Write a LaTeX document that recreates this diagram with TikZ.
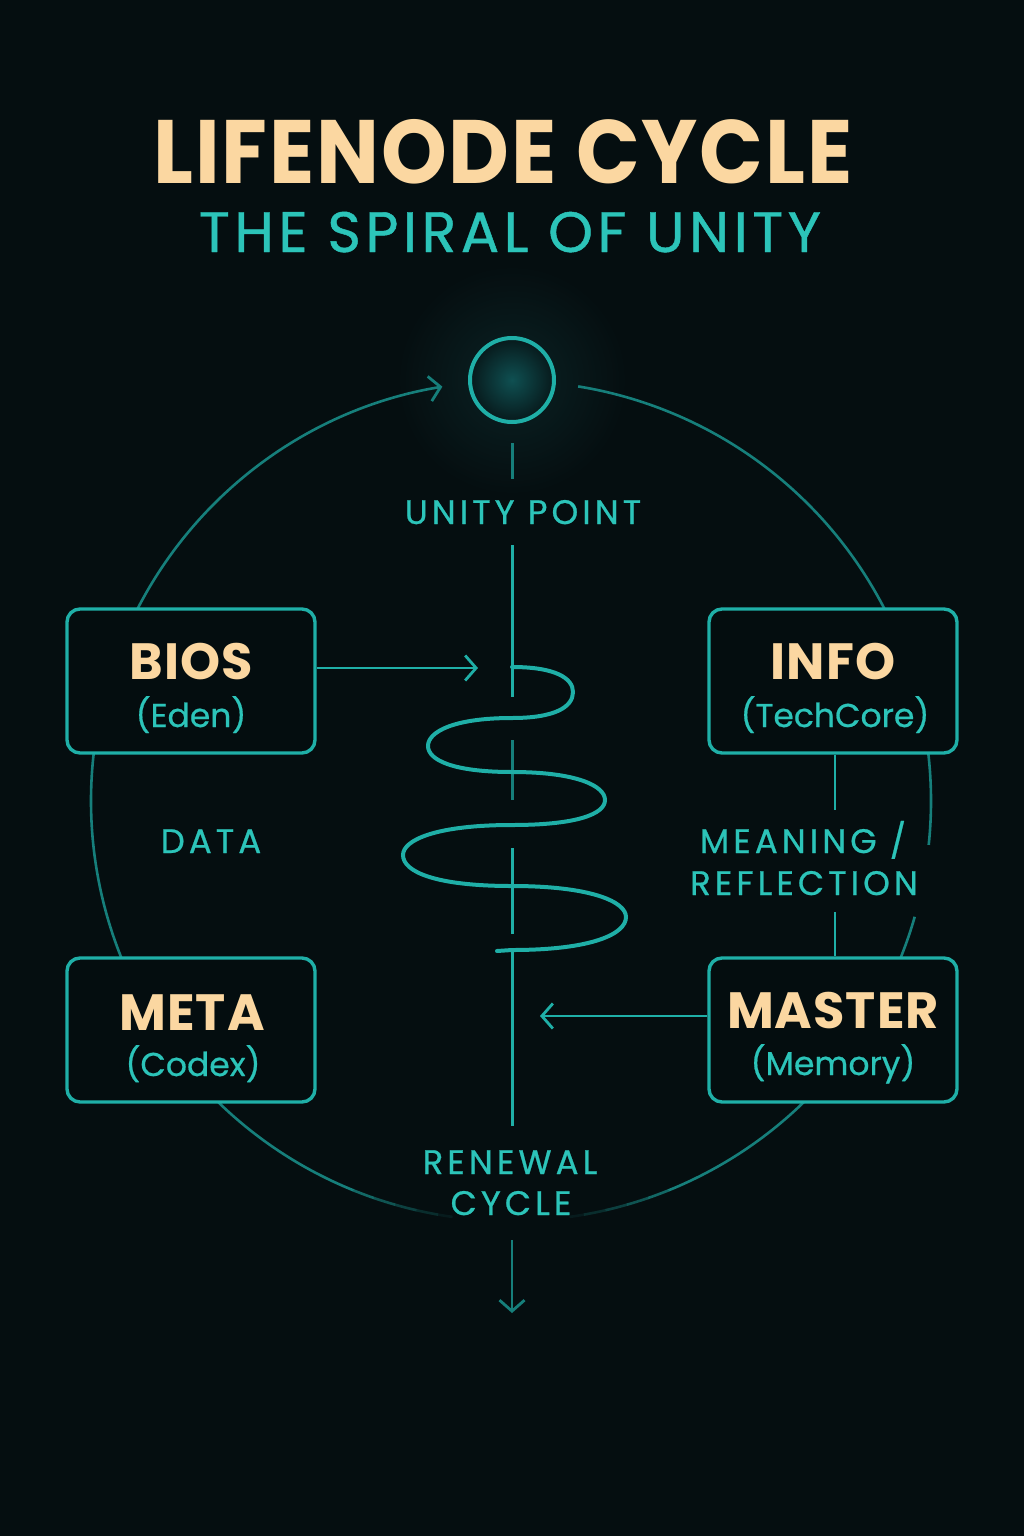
\documentclass[tikz,border=0pt]{standalone}
\usepackage{fontspec}
\setmainfont{Poppins}
\newfontfamily\headfont{Poppins}[LetterSpace=2,FakeStretch=0.93]
\newfontfamily\namefont{Poppins}[LetterSpace=2]
\newfontfamily\subfont{Poppins}[FakeBold=0.6]
\newfontfamily\capsfont{Poppins}[LetterSpace=12,FakeBold=0.7]
\newfontfamily\subtitlefont{Poppins}[LetterSpace=8,FakeBold=0.8]
\usetikzlibrary{arrows.meta}

\definecolor{bg}{HTML}{050E10}
\definecolor{peach}{HTML}{FBD7A1}
\definecolor{tealtext}{HTML}{2CC4B9}
\definecolor{tealline}{HTML}{1FAFA7}
\definecolor{tealdim}{HTML}{167F7B}
\definecolor{boxfill}{HTML}{040D0F}
\definecolor{glowcore}{HTML}{0F5052}
\definecolor{glowedge}{HTML}{07191B}
\definecolor{haze}{HTML}{0A2224}

\begin{document}
\begin{tikzpicture}[x=1pt,y=-1pt,
  barb/.style={-{Straight Barb[length=11pt,width=25pt,line width=2.8pt]}},
  ring/.style={draw=tealdim,line width=2.6pt,line cap=butt},
  axis/.style={draw=tealline,line width=3pt},
  axisdim/.style={draw=tealdim,line width=3pt},
  snake/.style={draw=tealline,line width=4pt,line cap=round},
  flow/.style={draw=tealline,line width=2.6pt,barb},
  stage/.style={draw=tealline,line width=3.4pt,fill=boxfill,rounded corners=13pt,
    minimum width=248pt,minimum height=144pt,inner sep=0pt},
  stagename/.style={anchor=base,inner sep=0pt,text=peach,
    font=\namefont\bfseries\fontsize{51}{51}\selectfont},
  stagesub/.style={anchor=base,inner sep=0pt,text=tealtext,
    font=\subfont\fontsize{33}{33}\selectfont},
  caplabel/.style={anchor=base,inner sep=0pt,text=tealtext,
    font=\capsfont\fontsize{34}{34}\selectfont},
]
% canvas
\fill[bg] (0,0) rectangle (1024,1536);
\useasboundingbox (0,0) rectangle (1024,1536);

% soft glow behind the unity point
\shade[inner color=haze,outer color=bg] (512,380) circle (115pt);

% heading
\node[anchor=base,inner sep=0pt,text=peach,
  font=\headfont\bfseries\fontsize{90}{90}\selectfont] (title) at (503,183) {LIFENODE CYCLE};
\node[anchor=base,inner sep=0pt,text=tealtext,
  font=\subtitlefont\fontsize{57}{57}\selectfont] (subtitle) at (510,252) {THE SPIRAL OF UNITY};

% centre of the big ring
\coordinate (C) at (511,801);

% the ring, broken where boxes and labels sit
\draw[ring,barb]
  (C) ++(155:420pt) arc[start angle=155,end angle=99.4,radius=420pt];
\draw[ring] (C) ++(80.8:420pt) arc[start angle=80.8,end angle=25,radius=420pt];
\draw[ring] (C) ++(8:420pt) arc[start angle=8,end angle=-6,radius=420pt];
\draw[ring] (C) ++(-16:420pt) arc[start angle=-16,end angle=-24,radius=420pt];
\draw[ring] (C) ++(172:420pt) arc[start angle=172,end angle=204,radius=420pt];
\draw[ring] (C) ++(222:420pt) arc[start angle=222,end angle=248,radius=420pt];
\draw[ring] (C) ++(292:420pt) arc[start angle=292,end angle=318,radius=420pt];
% fading ends of the lower arcs
\foreach \a/\b/\o in {248/251/0.8,251/254/0.62,254/257/0.45,257/260/0.28,260/262/0.12}{
  \draw[ring,draw opacity=\o] (C) ++(\a:420pt) arc[start angle=\a,end angle=\b,radius=420pt];
}
\foreach \a/\b/\o in {289/292/0.8,286/289/0.62,283/286/0.45,280/283/0.28,278/280/0.12}{
  \draw[ring,draw opacity=\o] (C) ++(\a:420pt) arc[start angle=\a,end angle=\b,radius=420pt];
}

% unity point
\node[circle,minimum size=84pt,inner sep=0pt,draw=tealline,line width=4pt,
  inner color=glowcore,outer color=glowedge] (unity) at (512,380) {};

% central axis segments
\coordinate (s1a) at (512,443); \coordinate (s1b) at (512,479);
\coordinate (s2a) at (512,545); \coordinate (s2b) at (512,697);
\coordinate (s3a) at (512,740); \coordinate (s3b) at (512,800);
\coordinate (s4a) at (512,848); \coordinate (s4b) at (512,934);
\coordinate (s5a) at (512,950); \coordinate (s5b) at (512,1126);
\coordinate (outA) at (512,1240); \coordinate (outB) at (512,1313);
\draw[axisdim] (s1a) -- (s1b);
\draw[axis] (s2a) -- (s2b);
\draw[axisdim] (s3a) -- (s3b);
\draw[axis] (s4a) -- (s4b);
\draw[axis] (s5a) -- (s5b);
\draw[draw=tealdim,line width=2.6pt,barb] (outA) -- (outB);

% the winding path
\draw[snake]
  (512,667) .. controls (555,667) and (573,678) .. (573,692)
            .. controls (573,707) and (555,718) .. (512,718)
            .. controls (453,718) and (428,732) .. (428,746)
            .. controls (428,760) and (453,772) .. (512,772)
            .. controls (577,772) and (605,786) .. (605,800)
            .. controls (605,814) and (577,825) .. (512,825)
            .. controls (436,825) and (403,840) .. (403,855)
            .. controls (403,872) and (436,886) .. (512,886)
            .. controls (592,886) and (626,902) .. (626,917)
            .. controls (626,934) and (592,950) .. (512,950)
            -- (497,951);

% stage boxes
\node[stage] (bios)   at (191,681)  {};
\node[stage] (info)   at (833,681)  {};
\node[stage] (meta)   at (191,1030) {};
\node[stage] (master) at (833,1030) {};

\node[stagename] (biosN)   at (191,679)  {BIOS};
\node[stagesub]  (biosS)   at (191,727)  {(Eden)};
\node[stagename] (infoN)   at (833,679)  {INFO};
\node[stagesub]  (infoS)   at (835,727)  {(TechCore)};
\node[stagename] (metaN)   at (192,1030) {META};
\node[stagesub]  (metaS)   at (193,1076) {(Codex)};
\node[stagename] (masterN) at (833,1028) {MASTER};
\node[stagesub]  (masterS) at (833,1075) {(Memory)};

% connectors between stages and the axis
\coordinate (biosTip) at (478,668);
\coordinate (masterTip) at (540,1016);
\draw[flow] (bios.east |- biosTip) -- (biosTip);
\draw[flow] (master.west |- masterTip) -- (masterTip);
\coordinate (mA) at (835,810);
\coordinate (mB) at (835,912);
\draw[axis,line width=2.6pt] (info.south -| mA) -- (mA);
\draw[axis,line width=2.6pt] (mB) -- (master.north -| mB);

% labels
\node[caplabel] (unityL) at (523,524) {UNITY POINT};
\node[caplabel] (dataL)  at (211,853) {DATA};
\node[caplabel] (meanL)  at (803,853) {MEANING /};
\node[caplabel] (reflL)  at (804,895) {REFLECTION};
\node[caplabel] (renL)   at (510,1174) {RENEWAL};
\node[caplabel] (cycL)   at (511,1215) {CYCLE};
\end{tikzpicture}
\end{document}
